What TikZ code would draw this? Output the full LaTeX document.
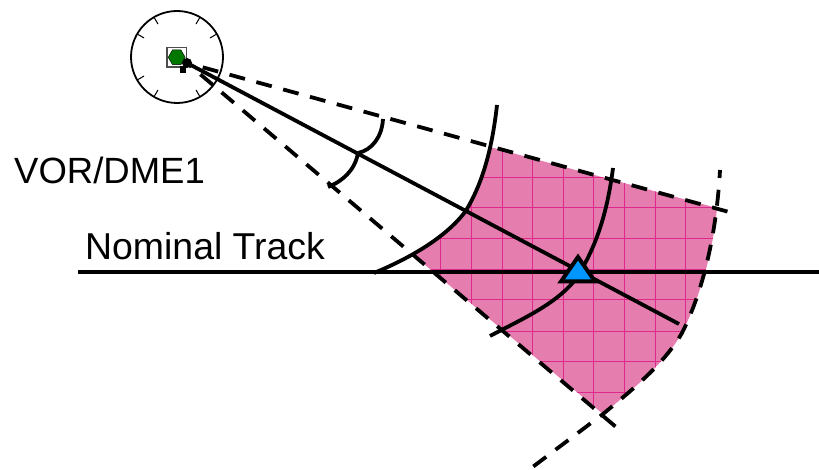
\documentclass[tikz,border=0pt]{standalone}
\usepackage{fontspec}
\setmainfont{Liberation Sans}
\usetikzlibrary{calc,shapes.geometric}
\definecolor{pinkfill}{RGB}{230,125,175}
\definecolor{gridpink}{RGB}{222,40,140}
\definecolor{tribl}{RGB}{0,150,255}
\definecolor{hexgreen}{RGB}{0,120,0}
\tikzset{
  solidln/.style={line width=3.8pt,black},
  dashln/.style={line width=3.8pt,black,dash pattern=on 16pt off 11.8pt},
  lbl/.style={font=\fontsize{36.5}{40}\selectfont,inner sep=0pt,anchor=base west},
  dialtick/.style={line width=1pt,black}
}
\begin{document}
\begin{tikzpicture}[x=1pt,y=-1pt]
\useasboundingbox (0,0) rectangle (819,470);
% shaded region
\def\regionpath{(490,147) -- (717,208) .. controls (713,250) and (702,292) .. (682,333) .. controls (664,364) and (632,390) .. (603,414) -- (412,254) .. controls (432,245) and (450,232) .. (465,212) .. controls (476,195) and (484,172) .. (490,147) -- cycle}
\fill[pinkfill] \regionpath;
\begin{scope}
\clip \regionpath;
\foreach \x in {440,471,502,532,563,593,624,655,685} \draw[gridpink,line width=0.8pt] (\x,130) -- (\x,420);
\foreach \y in {177,207,238,269,299,331,361,392} \draw[gridpink,line width=0.8pt] (400,\y) -- (730,\y);
\end{scope}
% station dial
\coordinate (c) at (177,57);
\node[circle,draw,line width=1.8pt,minimum size=92pt,inner sep=0pt] (dial) at (c) {};
\foreach \a in {30,60,120,150,210,240,300,330}
  \draw[dialtick] ($(c)+(\a:46)$) -- ($(c)+(\a:38)$);
\node[draw=gray!60!black,fill=white,line width=1.4pt,minimum size=19.5pt,inner sep=0pt] (box) at (176.7,57.3) {};
\node[regular polygon,regular polygon sides=6,fill=hexgreen,draw=black,line width=0.4pt,minimum size=17pt,inner sep=0pt] (hex) at (176.7,57.3) {};
\fill[black] (180,66) rectangle (186,73);
\fill[black] (187,63) circle (5pt);
\coordinate (o) at (187,63);
% radials
\coordinate (t) at (729,212);
\coordinate (b) at (616,427);
\coordinate (m) at (679,324);
\draw[dashln,dash phase=11.5pt] (o) -- (t);
\draw[dashln,dash phase=10.2pt] (o) -- (b);
\draw[solidln] (o) -- (m);
% arcs
\coordinate (r1a) at (497,105);
\coordinate (r1b) at (374,273);
\draw[solidln] (r1a) .. controls (492,150) and (482,185) .. (465,212) .. controls (445,238) and (410,258) .. (r1b);
\coordinate (r2a) at (613,168);
\coordinate (r2b) at (490,336);
\draw[solidln] (r2a) .. controls (607,215) and (595,250) .. (575,280) .. controls (555,305) and (520,320) .. (r2b);
\coordinate (r3a) at (720,170);
\coordinate (r3b) at (530,469);
\draw[dashln,dash phase=8pt] (r3a) .. controls (717,225) and (706,285) .. (682,333) .. controls (664,364) and (632,390) .. (603,414) -- (r3b);
% angle arcs
\coordinate (q0) at (358,153);
\coordinate (q1) at (383,119);
\coordinate (q2) at (328,187);
\draw[solidln] (q1) .. controls (382,137) and (372,150) .. (q0);
\draw[solidln] (q0) .. controls (355,170) and (343,181) .. (q2);
% track
\coordinate (tl) at (78,272);
\coordinate (tr) at (819,272);
\draw[solidln] (tl) -- (tr);
% triangle
\draw[fill=tribl,line width=4pt,miter limit=10] (578,257) -- (595,281.5) -- (561,281.5) -- cycle;
% labels
\node[lbl] (vor) at (14,184) {VOR/DME1};
\node[lbl,font=\fontsize{37.4}{40}\selectfont] (nt) at (85,260) {Nominal Track};
\end{tikzpicture}
\end{document}
